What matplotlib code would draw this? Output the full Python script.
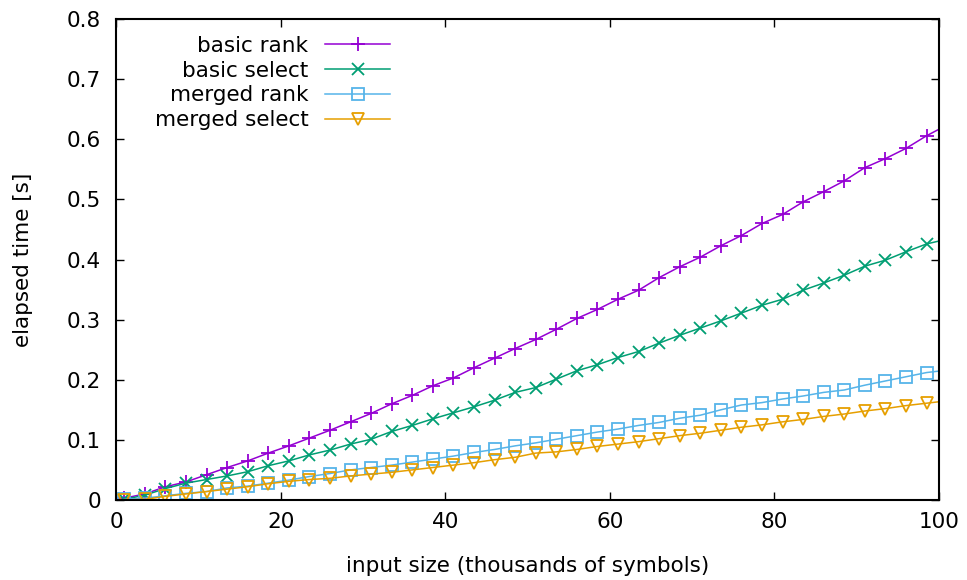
import matplotlib
matplotlib.use("Agg")
import matplotlib.pyplot as plt

# input size in thousands of symbols (last point lies past the x range and is clipped)
sizes = [1.0, 3.5, 6.0, 8.5, 11.0, 13.5, 16.0, 18.5, 21.0, 23.5,
         26.0, 28.5, 31.0, 33.5, 36.0, 38.5, 41.0, 43.5, 46.0, 48.5,
         51.0, 53.5, 56.0, 58.5, 61.0, 63.5, 66.0, 68.5, 71.0, 73.5,
         76.0, 78.5, 81.0, 83.5, 86.0, 88.5, 91.0, 93.5, 96.0, 98.5, 101.0]

basic_rank = [0.003, 0.010, 0.022, 0.030, 0.042, 0.054, 0.065, 0.078, 0.090, 0.103,
              0.116, 0.130, 0.144, 0.160, 0.174, 0.190, 0.203, 0.220, 0.236, 0.252,
              0.267, 0.284, 0.302, 0.317, 0.334, 0.349, 0.370, 0.388, 0.404, 0.423,
              0.440, 0.460, 0.475, 0.496, 0.513, 0.531, 0.553, 0.568, 0.585, 0.606, 0.624]

basic_select = [0.001, 0.008, 0.019, 0.028, 0.034, 0.040, 0.047, 0.057, 0.065, 0.075,
                0.083, 0.093, 0.101, 0.114, 0.124, 0.135, 0.145, 0.155, 0.166, 0.179,
                0.187, 0.201, 0.215, 0.225, 0.237, 0.247, 0.261, 0.274, 0.286, 0.298,
                0.311, 0.324, 0.334, 0.349, 0.361, 0.374, 0.389, 0.399, 0.413, 0.426, 0.434]

merged_rank = [0.001, 0.003, 0.007, 0.011, 0.014, 0.020, 0.023, 0.028, 0.033, 0.039,
               0.044, 0.050, 0.054, 0.058, 0.063, 0.068, 0.073, 0.079, 0.084, 0.090,
               0.095, 0.101, 0.107, 0.113, 0.118, 0.124, 0.129, 0.136, 0.141, 0.150,
               0.158, 0.162, 0.168, 0.173, 0.179, 0.183, 0.191, 0.198, 0.205, 0.212, 0.216]

merged_select = [0.000, 0.001, 0.006, 0.010, 0.014, 0.018, 0.022, 0.027, 0.031, 0.034,
                 0.036, 0.040, 0.043, 0.046, 0.050, 0.054, 0.058, 0.062, 0.067, 0.071,
                 0.078, 0.080, 0.084, 0.089, 0.093, 0.097, 0.102, 0.107, 0.111, 0.116,
                 0.121, 0.125, 0.130, 0.134, 0.139, 0.143, 0.148, 0.152, 0.157, 0.161, 0.165]

labels = ["basic rank", "basic select", "merged rank", "merged select"]
colors = ["#9400D3", "#009E73", "#56B4E9", "#E69F00"]
markers = ["+", "x", "s", "v"]
msizes = [10, 9, 8.5, 8.5]

fs = 15.5
plt.rcParams['font.family'] = ['DejaVu Sans']
plt.rcParams['font.size'] = fs

fig = plt.figure(figsize=(9.67, 5.8), dpi=100)
ax = fig.add_axes([0.12, 0.138, 0.851, 0.829])

series = [basic_rank, basic_select, merged_rank, merged_select]
for ys, lab, c, m, ms in zip(series, labels, colors, markers, msizes):
    ax.plot(sizes, ys, color=c, lw=1.1, marker=m, ms=ms, mew=1.3,
            mfc='none', mec=c, label=lab)

ax.set_xlim(0, 100)
ax.set_ylim(0, 0.8)
ax.set_xticks([0, 20, 40, 60, 80, 100])
ax.set_yticks([0, 0.1, 0.2, 0.3, 0.4, 0.5, 0.6, 0.7, 0.8])
ax.set_yticklabels(["0", "0.1", "0.2", "0.3", "0.4", "0.5", "0.6", "0.7", "0.8"])
ax.tick_params(direction='in', length=6, width=1.0, top=True, right=True,
               labelsize=fs, color='black')
ax.tick_params(axis='x', pad=9)
ax.tick_params(axis='y', pad=11)
for sp in ax.spines.values():
    sp.set_linewidth(1.5)

ax.set_xlabel("input size (thousands of symbols)", fontsize=fs, labelpad=17)
ax.set_ylabel("elapsed time [s]", fontsize=fs, labelpad=24)

leg = ax.legend(loc='upper right', bbox_to_anchor=(0.333, 0.965), frameon=False,
                markerfirst=False, handlelength=3.0, handletextpad=0.8,
                labelspacing=0.22, borderpad=0, borderaxespad=0, fontsize=fs)

fig.savefig("out.png", dpi=100)
